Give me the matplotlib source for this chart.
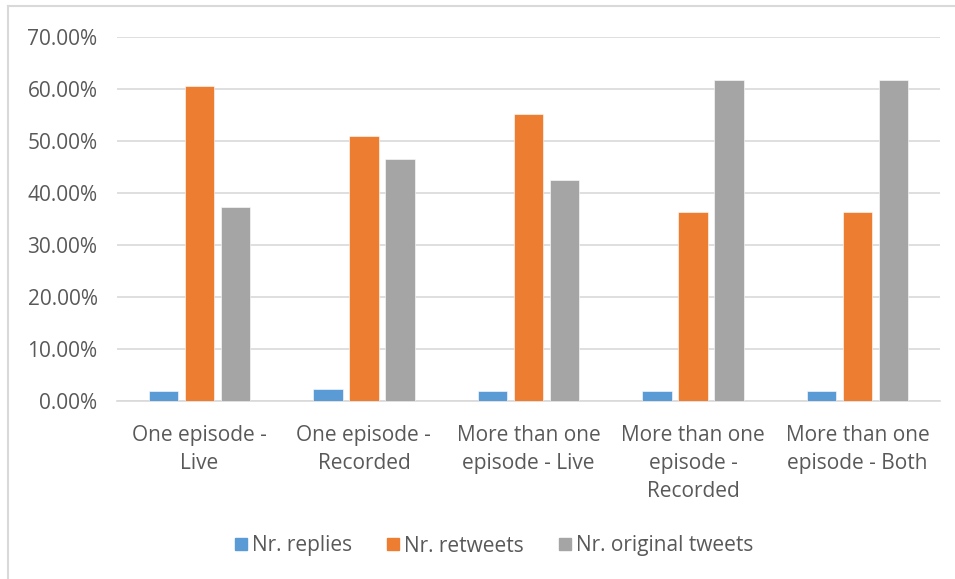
import matplotlib
matplotlib.use("Agg")
import matplotlib.pyplot as plt
import numpy as np
from matplotlib.ticker import FuncFormatter
from matplotlib.lines import Line2D

categories = [
    "One episode -\nLive",
    "One episode -\nRecorded",
    "More than one\nepisode - Live",
    "More than one\nepisode -\nRecorded",
    "More than one\nepisode - Both",
]
series_names = ["Nr. replies", "Nr. retweets", "Nr. original tweets"]
replies = [2.0, 2.4, 2.0, 2.0, 2.0]
retweets = [60.6, 50.9, 55.2, 36.3, 36.3]
original_tweets = [37.4, 46.6, 42.5, 61.7, 61.7]
y_ticks = [0, 10, 20, 30, 40, 50, 60, 70]

colors = ["#5B9BD5", "#ED7D31", "#A5A5A5"]
text_color = "#595959"

plt.rcParams["font.family"] = ["Open Sans", "DejaVu Sans"]

fig = plt.figure(figsize=(9.55, 5.79), dpi=100)
ax = fig.add_axes([117 / 955, 1 - 401 / 579, (940 - 117) / 955, (401 - 37) / 579])

x = np.arange(len(categories))
width = 0.178
step = 0.219
for i, (vals, col, name) in enumerate(zip([replies, retweets, original_tweets], colors, series_names)):
    ax.bar(x + (i - 1) * step, vals, width=width, color=col, label=name, zorder=3,
           edgecolor="white", linewidth=0.4)

ax.set_xlim(-0.5, len(categories) - 0.5)
ax.set_ylim(0, 70)
ax.set_yticks(y_ticks)
ax.yaxis.set_major_formatter(FuncFormatter(lambda v, p: f"{v:.2f}%"))
ax.set_xticks(x)
ax.set_xticklabels(categories, linespacing=1.45)
ax.tick_params(axis="y", length=0, pad=14, labelsize=15, labelcolor=text_color)
ax.tick_params(axis="x", length=0, pad=17, labelsize=15, labelcolor=text_color)
ax.grid(axis="y", color="#D9D9D9", linewidth=1.2, zorder=0)
for s in ["top", "right", "left"]:
    ax.spines[s].set_visible(False)
ax.spines["bottom"].set_color("#D9D9D9")
ax.spines["bottom"].set_linewidth(1.2)

handles = [Line2D([0], [0], marker="s", linestyle="none", markersize=9,
                  markerfacecolor=c, markeredgecolor=c) for c in colors]
fig.legend(handles, series_names, loc="center", bbox_to_anchor=(493 / 955, 1 - 546 / 579),
           ncol=3, frameon=False, fontsize=15, labelcolor=text_color,
           handletextpad=0.1, columnspacing=1.6, handlelength=0.8)

# outer frame lines along the top and left edges
fig.add_artist(Line2D([7.5 / 955, 1], [1 - 6 / 579, 1 - 6 / 579], color="#D9D9D9", linewidth=1.5,
                      transform=fig.transFigure))
fig.add_artist(Line2D([7.5 / 955, 7.5 / 955], [0, 1 - 6 / 579], color="#D9D9D9", linewidth=1.5,
                      transform=fig.transFigure))

fig.savefig("out.png", dpi=100)
